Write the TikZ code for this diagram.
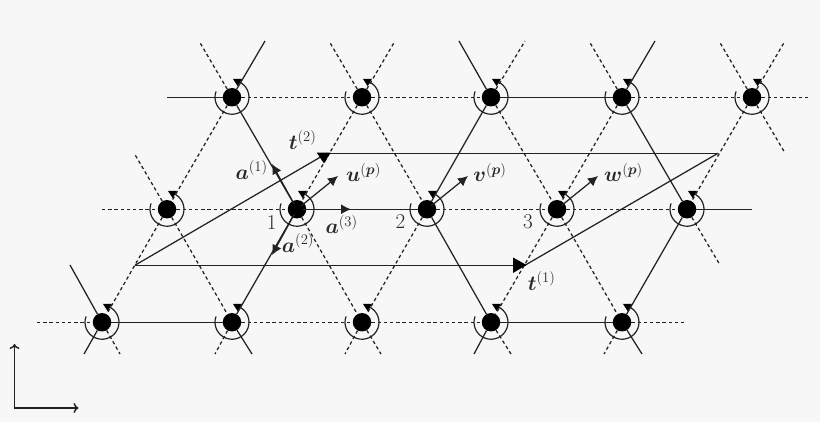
\documentclass[tikz,border=0pt]{standalone}
\usepackage{amsmath,bm}
\usetikzlibrary{arrows.meta}
\definecolor{bgc}{HTML}{F7F7F7}
\definecolor{ink}{HTML}{222222}
\definecolor{txt}{HTML}{2A2A2A}
\tikzset{
  site/.style={circle,fill=black,draw=none,inner sep=0pt,minimum size=18.5pt},
  sol/.style={draw=ink,line width=1.25pt},
  dsh/.style={draw=ink,line width=1.25pt,dash pattern=on 3.4pt off 2.8pt},
  vec/.style={draw=ink,line width=1.25pt,-{Latex[length=10pt,width=10pt]},shorten <=-4pt},
  axis/.style={draw=ink,line width=1.5pt,{To[length=5pt,width=10pt]}-{To[length=5pt,width=10pt]}},
  lab/.style={text=txt,font=\LARGE,scale=1.22,inner sep=0pt},
  spin/.style={draw=ink,line width=1.2pt},
  tip/.style={fill=black}
}
\begin{document}
\begin{tikzpicture}[x=1pt,y=-1pt]
\fill[bgc] (0,0) rectangle (820,422);
\useasboundingbox (0,0) rectangle (820,422);
% sites
\foreach \n/\x/\y in {T1/232/97.25,T2/362/97.25,T3/491/97.25,T4/622/97.25,T5/752/97.25,
  M1/167/209.25,M2/297/209.25,M3/427/209.25,M4/557/209.25,M5/687/209.25,
  B1/102/322.25,B2/232/322.25,B3/362/322.25,B4/491/322.25,B5/622/322.25}{
  \node[site] (\n) at (\x,\y) {};
  \draw[spin] ([shift={(160:17pt)}]\n.center) arc[start angle=160,end angle=430,radius=17pt];
  \fill[tip] ([shift={(1,-18.3)}]\n.center) -- ([shift={(10,-18.5)}]\n.center) -- ([shift={(5.7,-11)}]\n.center) -- cycle;
}
% free ends
\foreach \n/\x/\y in {ha/167/97.25,hb/810/97.25,hc/102/209.25,hd/752/209.25,he/37/322.25,hf/687/322.25,
  ua/265/41,ub/395/41,uc/525/41,ud/655/41,ue/785/41,
  va/199/41,vb/329/41,vc/459/41,vd/589/41,ve/719/41,
  la/84/354,lb/215/354,lc/345/354,ld/474/354,le/604/354,
  ra/120/354,rb/252/354,rc/381/354,rd/511/354,re/642/354,
  xa/70/265,xb/134/153,xc/785/153,xd/720/265,
  Pa/135/265.25,Pb/327/153.25,Pc/525/265.25,Pd/718/153.25,
  ea/272/164,eb/272/255,ec/351/209.25,ed/338/176,ee/468/176,ef/598/176,
  Oo/14.5/408,Ox/78.5/408,Oy/14.5/344}{
  \coordinate (\n) at (\x,\y);
}
% horizontal bonds
\draw[sol] (ha)--(T1); \draw[dsh] (T1)--(T2); \draw[dsh] (T2)--(T3); \draw[sol] (T3)--(T4); \draw[dsh] (T4)--(T5); \draw[dsh] (T5)--(hb);
\draw[dsh] (hc)--(M1); \draw[dsh] (M1)--(M2); \draw[sol] (M2)--(M3); \draw[dsh] (M3)--(M4); \draw[dsh] (M4)--(M5); \draw[sol] (M5)--(hd);
\draw[dsh] (he)--(B1); \draw[sol] (B1)--(B2); \draw[dsh] (B2)--(B3); \draw[dsh] (B3)--(B4); \draw[sol] (B4)--(B5); \draw[dsh] (B5)--(hf);
% rising bonds
\draw[sol] (T1)--(ua); \draw[dsh] (T1)--(M1); \draw[dsh] (M1)--(B1); \draw[sol] (B1)--(la);
\draw[dsh] (T2)--(ub); \draw[dsh] (T2)--(M2); \draw[sol] (M2)--(B2); \draw[dsh] (B2)--(lb);
\draw[dsh] (T3)--(uc); \draw[sol] (T3)--(M3); \draw[dsh] (M3)--(B3); \draw[dsh] (B3)--(lc);
\draw[sol] (T4)--(ud); \draw[dsh] (T4)--(M4); \draw[dsh] (M4)--(B4); \draw[sol] (B4)--(ld);
\draw[dsh] (T5)--(ue); \draw[dsh] (T5)--(M5); \draw[sol] (M5)--(B5); \draw[dsh] (B5)--(le);
% falling bonds
\draw[dsh] (T1)--(va); \draw[sol] (T1)--(M2); \draw[dsh] (M2)--(B3); \draw[dsh] (B3)--(rc);
\draw[dsh] (T2)--(vb); \draw[dsh] (T2)--(M3); \draw[sol] (M3)--(B4); \draw[dsh] (B4)--(rd);
\draw[sol] (T3)--(vc); \draw[dsh] (T3)--(M4); \draw[dsh] (M4)--(B5); \draw[sol] (B5)--(re);
\draw[dsh] (T4)--(vd); \draw[sol] (T4)--(M5); \draw[dsh] (M5)--(xd);
\draw[dsh] (T5)--(ve); \draw[dsh] (T5)--(xc);
\draw[dsh] (M1)--(xb); \draw[dsh] (M1)--(B2); \draw[sol] (B2)--(rb);
\draw[sol] (B1)--(xa); \draw[dsh] (B1)--(ra);
% supercell
\draw[sol] (Pa)--(Pb); \draw[sol] (Pb)--(Pd); \draw[sol] (Pa)--(Pc); \draw[sol] (Pc)--(Pd);
\fill[tip] (316.7,152.6)--(330.5,152.6)--(324,163.5)--cycle;
\fill[tip] (513,257.5)--(526.5,265)--(513,273)--cycle;
% vectors
\draw[vec] (M2)--(ea);
\draw[vec] (M2)--(eb);
\draw[vec] (M2)--(ec);
\draw[vec] (M2)--(ed);
\draw[vec] (M3)--(ee);
\draw[vec] (M4)--(ef);
% axes
\draw[axis] (Oy)--(Oo)--(Ox);
% labels
\node[lab] (l1) at (271.7,222.5) {1};
\node[lab] (l2) at (400.5,222) {2};
\node[lab] (l3) at (528,222) {3};
\node[lab] (la1) at (251.7,170) {$\boldsymbol{a}^{(1)}$};
\node[lab] (la2) at (298,243) {$\boldsymbol{a}^{(2)}$};
\node[lab] (la3) at (341.7,224.5) {$\boldsymbol{a}^{(3)}$};
\node[lab] (lu) at (363.5,172.5) {$\boldsymbol{u}^{(\boldsymbol{p})}$};
\node[lab] (lv) at (490,172.5) {$\boldsymbol{v}^{(\boldsymbol{p})}$};
\node[lab] (lw) at (623.5,172.5) {$\boldsymbol{w}^{(\boldsymbol{p})}$};
\node[lab] (lt2) at (302.7,140) {$\boldsymbol{t}^{(2)}$};
\node[lab] (lt1) at (541.7,281) {$\boldsymbol{t}^{(1)}$};
\end{tikzpicture}
\end{document}
